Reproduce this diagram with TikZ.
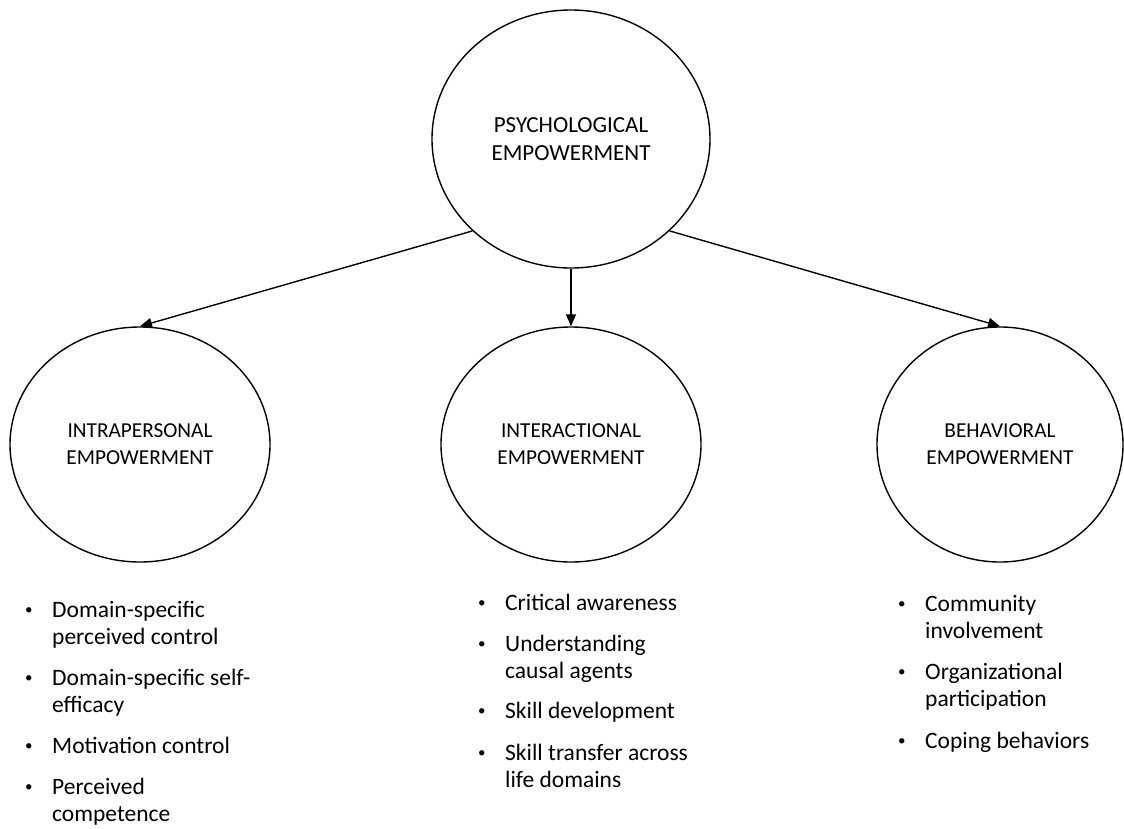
\documentclass[tikz,border=0pt]{standalone}
\usepackage{fontspec}
\setmainfont{Carlito}
\usetikzlibrary{shapes.geometric,arrows.meta}

% bullet mark and hanging indent for the component lists
\newcommand{\bulmark}{\makebox[23pt][l]{\hspace*{-4pt}\raisebox{3pt}{\fontsize{15}{15}\selectfont •}}}
\newcommand{\bulitem}[2]{\bulmark#1\\\hspace*{23pt}#2}
\newcommand{\bulone}[1]{\bulmark#1}

\begin{document}
\begin{tikzpicture}[x=1pt,y=-1pt,
  bubble/.style={ellipse, draw, line width=1.4pt, inner sep=0pt,
    font=\fontsize{21.3}{27}\selectfont, align=center,
    minimum width=260pt, minimum height=235pt},
  topbubble/.style={bubble, font=\fontsize{23}{28}\selectfont,
    minimum width=278pt, minimum height=258pt},
  link/.style={line width=1.4pt, -{Triangle[length=12pt,width=10pt]}},
  point/.style={font=\fontsize{23.5}{27}\selectfont, align=left,
    anchor=base west, inner sep=0pt}]
  \useasboundingbox (0,0) rectangle (1124,828);

  % top concept and its three dimensions
  \node[topbubble] (psy) at (571,139) {PSYCHOLOGICAL\\EMPOWERMENT};
  \node[bubble] (intra) at (140,444.5) {INTRAPERSONAL\\EMPOWERMENT};
  \node[bubble] (inter) at (571,444.5) {INTERACTIONAL\\EMPOWERMENT};
  \node[bubble, minimum width=246pt] (behav) at (1000,444.5) {BEHAVIORAL\\EMPOWERMENT};

  \draw[link] (psy.223) -- (intra.north);
  \draw[link] (psy.south) -- (inter.north);
  \draw[link] (psy.-43) -- (behav.north);

  % intrapersonal components (base = last line of each item)
  \node[point] (i1) at (29,644) {\bulitem{Domain-specific}{perceived control}};
  \node[point] (i2) at (29,712) {\bulitem{Domain-specific self-}{efficacy}};
  \node[point] (i3) at (29,753) {\bulone{Motivation control}};
  \node[point] (i4) at (29,821) {\bulitem{Perceived}{competence}};

  % interactional components
  \node[point] (n1) at (482,610) {\bulone{Critical awareness}};
  \node[point] (n2) at (482,678) {\bulitem{Understanding}{causal agents}};
  \node[point] (n3) at (482,718) {\bulone{Skill development}};
  \node[point] (n4) at (482,787) {\bulitem{Skill transfer across}{life domains}};

  % behavioral components
  \node[point] (b1) at (902,638) {\bulitem{Community}{involvement}};
  \node[point] (b2) at (902,706) {\bulitem{Organizational}{participation}};
  \node[point] (b3) at (902,748) {\bulone{Coping behaviors}};
\end{tikzpicture}
\end{document}
